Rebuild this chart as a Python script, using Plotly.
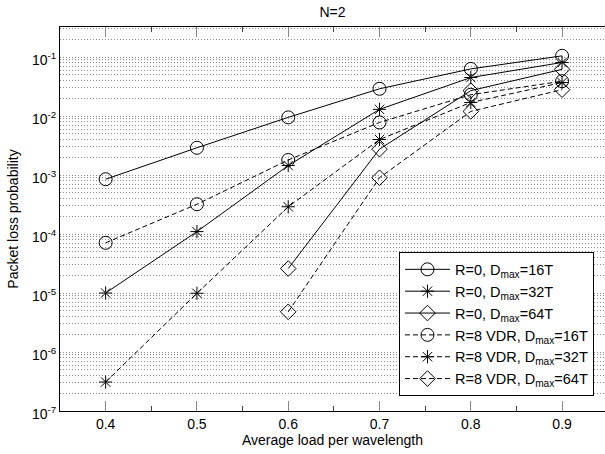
import plotly.graph_objects as go

loads = [0.4, 0.5, 0.6, 0.7, 0.8, 0.9]
loads_64 = [0.6, 0.7, 0.8, 0.9]

r0_16 = [8.5e-4, 2.9e-3, 9.5e-3, 0.029, 0.063, 0.105]
r0_32 = [1.0e-5, 1.1e-4, 1.45e-3, 0.013, 0.045, 0.081]
r0_64 = [2.6e-5, 2.75e-3, 0.027, 0.062]
r8_16 = [7.1e-5, 3.2e-4, 1.8e-3, 7.8e-3, 0.023, 0.039]
r8_32 = [3.1e-7, 9.9e-6, 2.9e-4, 4.0e-3, 0.017, 0.037]
r8_64 = [4.8e-6, 9.0e-4, 0.012, 0.028]

names = ["R=0, D<sub>max</sub>=16T", "R=0, D<sub>max</sub>=32T", "R=0, D<sub>max</sub>=64T",
         "R=8 VDR, D<sub>max</sub>=16T", "R=8 VDR, D<sub>max</sub>=32T", "R=8 VDR, D<sub>max</sub>=64T"]

x_ticklabels = ["0.4", "0.5", "0.6", "0.7", "0.8", "0.9"]

series = [
    (loads, r0_16, "circle-open", 13, "solid"),
    (loads, r0_32, "asterisk-open", 11, "solid"),
    (loads_64, r0_64, "diamond-open", 12, "solid"),
    (loads, r8_16, "circle-open", 13, "5px,3px"),
    (loads, r8_32, "asterisk-open", 11, "5px,3px"),
    (loads_64, r8_64, "diamond-open", 12, "5px,3px"),
]

fig = go.Figure()
for (xs, ys, sym, sz, dash), nm in zip(series, names):
    fig.add_trace(go.Scatter(
        x=xs, y=ys, name=nm, mode="lines+markers",
        line=dict(color="black", width=1, dash=dash),
        marker=dict(symbol=sym, size=sz, color="black", line=dict(color="black", width=1)),
    ))

tickvals = []
ticktext = []
for e in range(-7, 0):
    for m in range(1, 10):
        tickvals.append(m * 10.0 ** e)
        ticktext.append(f"10<sup>{e}</sup>" if m == 1 else "")
tickvals.append(1.0)
ticktext.append("")

font = "Liberation Sans, Arial, Helvetica, sans-serif"

fig.update_layout(
    width=605, height=454,
    margin=dict(l=60, r=0, t=27, b=43),
    paper_bgcolor="white", plot_bgcolor="white",
    font=dict(family=font, size=14, color="black"),
    title=dict(text="N=2", x=0.5, xref="paper", y=0.974, yanchor="middle",
               font=dict(size=14, family=font, color="black")),
    showlegend=True,
    legend=dict(x=0.622, y=0.413, xanchor="left", yanchor="top",
                bgcolor="white", bordercolor="black", borderwidth=1,
                font=dict(size=14.5, family=font), tracegroupgap=0, itemwidth=45),
)

fig.update_xaxes(
    range=[0.35, 0.947], showgrid=False, zeroline=False, automargin=False,
    showline=True, linecolor="black", linewidth=1, mirror="ticks",
    ticks="inside", ticklen=10, tickcolor="#888888", tickwidth=1,
    tickvals=loads, ticktext=x_ticklabels,
    tickfont=dict(size=14),
    minor=dict(ticks="inside", ticklen=5, tickcolor="#444444", dtick=0.05, tick0=0.35, showgrid=False),
    title=dict(text="Average load per wavelength", font=dict(size=14), standoff=2),
)

fig.update_yaxes(
    type="log", range=[-7, -0.49], zeroline=False, automargin=False,
    showline=True, linecolor="black", linewidth=1, mirror=False,
    ticks="", tickvals=tickvals, ticktext=ticktext,
    tickfont=dict(size=14), ticklabelshift=3,
    showgrid=True, gridcolor="#8c8c8c", gridwidth=1, griddash="1px,2px",
    title=dict(text="Packet loss probability", font=dict(size=14), standoff=10),
)

fig.write_html("out.html", config={"displayModeBar": False},
               post_script="document.body.style.margin='0';document.body.style.padding='0';")
